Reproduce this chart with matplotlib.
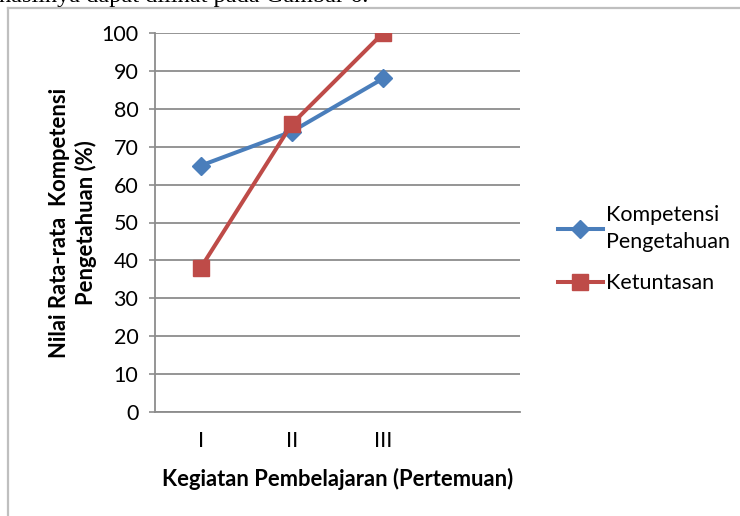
import matplotlib.pyplot as plt
from matplotlib.lines import Line2D

# data
pertemuan = ['I', 'II', 'III', '']
kompetensi = [65, 74, 88]
ketuntasan = [38, 76, 100]
y_ticks = [0, 10, 20, 30, 40, 50, 60, 70, 80, 90, 100]

blue = '#4A7EBB'
red = '#BE4B48'
grid_gray = '#8C8C8C'

plt.rcParams['font.family'] = ['Lato', 'DejaVu Sans']

fig = plt.figure(figsize=(7.4, 5.16), dpi=100)
ax = fig.add_axes([155 / 740, 1 - 412 / 516, 365 / 740, 379 / 516])

x = list(range(len(kompetensi)))
ax.plot(x, kompetensi, color=blue, lw=2.9, marker='D', ms=9,
        label='Kompetensi\nPengetahuan')
ax.plot(x, ketuntasan, color=red, lw=2.9, marker='s', ms=11.5,
        label='Ketuntasan')

ax.set_xlim(-0.5, len(pertemuan) - 0.5)
ax.set_ylim(0, 100)
ax.set_xticks(range(len(pertemuan)))
ax.set_xticklabels(pertemuan)
ax.set_yticks(y_ticks)
ax.tick_params(axis='x', length=0, pad=14, labelsize=15.5)
ax.tick_params(axis='y', length=4, width=1.2, color=grid_gray, pad=8, labelsize=15.5)
ax.yaxis.grid(True, color=grid_gray, lw=1.3)
ax.set_axisbelow(True)
for side in ['top', 'right']:
    ax.spines[side].set_visible(False)
for side in ['left', 'bottom']:
    ax.spines[side].set_color(grid_gray)
    ax.spines[side].set_linewidth(1.3)
ax.spines['bottom'].set_zorder(0)

ax.set_xlabel('Kegiatan Pembelajaran (Pertemuan)', fontsize=15.8, fontweight='bold',
              labelpad=12)
ax.set_ylabel('Nilai Rata-rata  Kompetensi\nPengetahuan (%)', fontsize=15.8,
              fontweight='bold', labelpad=3, linespacing=1.25)

leg = ax.legend(loc='center left', bbox_to_anchor=(1.05, 0.43), frameon=False,
                fontsize=15.5, handlelength=2.1, handletextpad=0.15, labelspacing=1.0)
for t in leg.get_texts():
    t.set_linespacing(1.45)

# chart frame, cut by the page edge
fig.add_artist(Line2D([8 / 740, 8 / 740], [0, 1 - 8 / 516], color='#BFBFBF', lw=1.6))
fig.add_artist(Line2D([8 / 740, 1], [1 - 8 / 516, 1 - 8 / 516], color='#BFBFBF', lw=1.6))

# text line from the page above the chart, mostly cut off
fig.text(368 / 740, 1 - 2 / 516, 'hasilnya dapat dilihat pada Gambar 6.', ha='right',
         va='baseline', fontsize=17.5, family='Liberation Serif')

fig.savefig('out.png', dpi=100)
